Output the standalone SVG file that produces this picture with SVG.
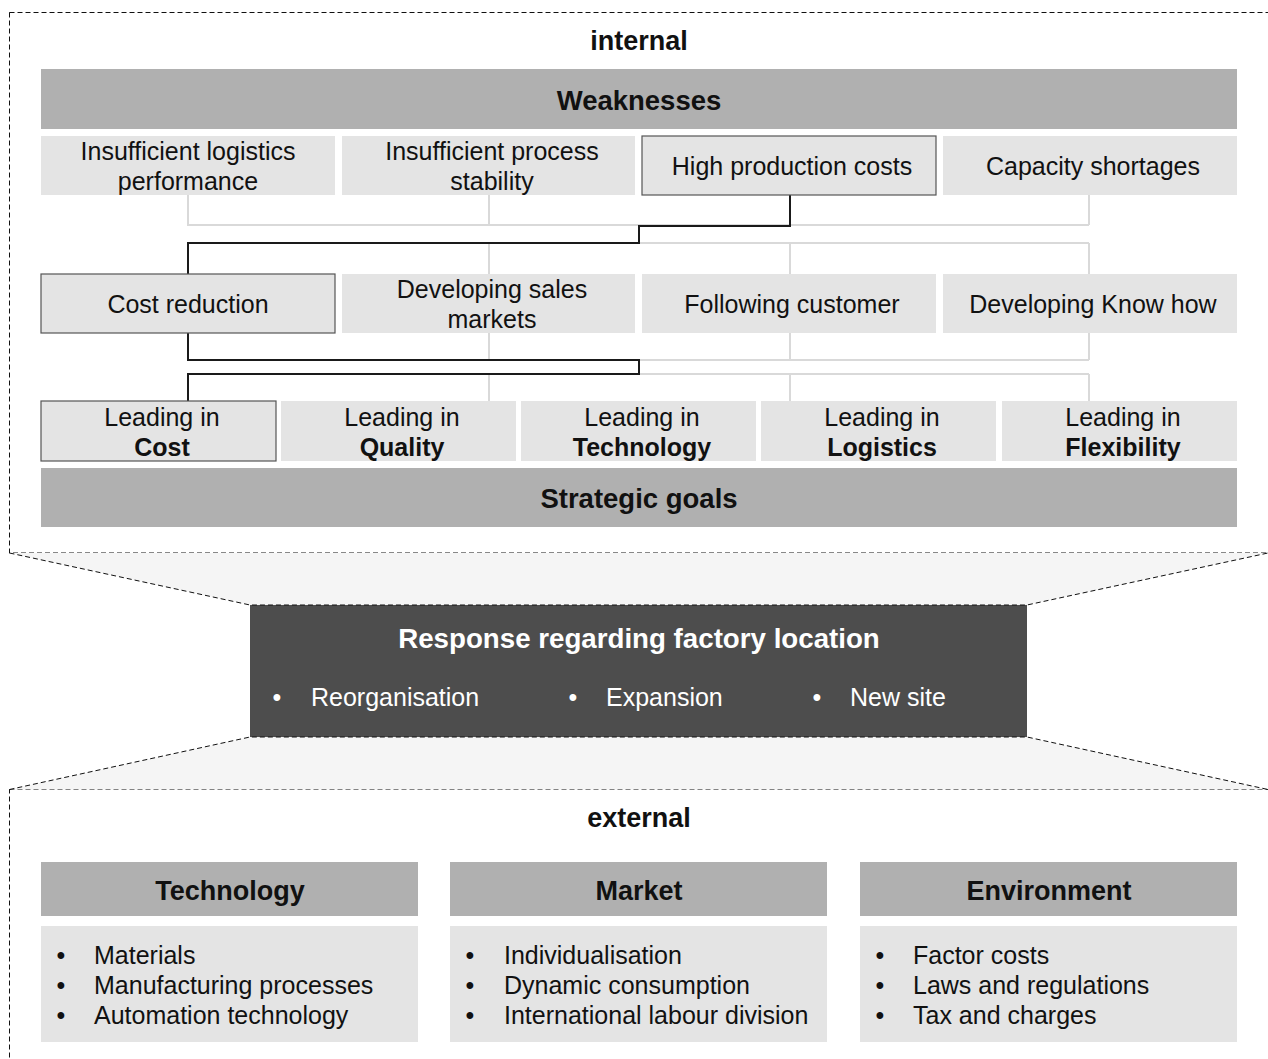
<svg xmlns="http://www.w3.org/2000/svg" width="1268" height="1059" viewBox="0 0 1268 1059">
  <style>
    text { font-family: "Liberation Sans", Arial, sans-serif; fill: #111; }
    .reg { font-size: 25px; }
    .bold { font-size: 27px; font-weight: bold; }
    .mid { text-anchor: middle; }
    .white { fill: #fff; }
    .frame { fill: none; stroke: #111; stroke-width: 1; stroke-dasharray: 5 3; }
    .funnel { fill: #f5f5f5; stroke: none; }
    .dash { fill: none; stroke: #111; stroke-width: 1; stroke-dasharray: 5 3; }
    .head { fill: #b0b0b0; }
    .cell { fill: #e4e4e4; }
    .sel { fill: #e4e4e4; stroke: #555; stroke-width: 1.2; }
    .grey { fill: none; stroke: #d9d9d9; stroke-width: 2; }
    .path { fill: none; stroke: #1a1a1a; stroke-width: 2; }
  </style>

  <rect width="1268" height="1059" fill="#fff"/>

  <!-- dashed frames for internal and external factors -->
  <g id="frames">
    <rect class="frame" x="9.5" y="12.5" width="1270" height="540.5"/>
    <rect class="frame" x="9.5" y="789.5" width="1270" height="300"/>
  </g>

  <!-- funnel shapes linking frames to the response box -->
  <g id="funnels">
    <polygon class="funnel" points="9.5,553 1268,553 1027,605 250,605"/>
    <polygon class="funnel" points="250,737 1027,737 1268,789.5 9.5,789.5"/>
  </g>

  <text class="bold mid" x="639" y="50">internal</text>

  <!-- connectors -->
  <g id="connectors">
    <!-- weaknesses to objectives -->
    <path class="grey" d="M188,195 V225 H1089 M489,195 V225 M1089,195 V225"/>
    <path class="grey" d="M639,225 V243 M188,243 H1089 M489,243 V274 M790,243 V274 M1089,243 V274"/>
    <!-- objectives to strategic goals -->
    <path class="grey" d="M188,333 V360 H1089 M489,333 V360 M790,333 V360 M1089,333 V360"/>
    <path class="grey" d="M639,360 V374 M188,374 H1089 M489,374 V401 M790,374 V401 M1089,374 V401"/>
    <!-- highlighted path -->
    <path class="path" d="M790,195 V226 H639 V243 H188 V274"/>
    <path class="path" d="M188,333 V360 H639 V374 H188 V401"/>
  </g>

  <g id="weaknesses-header">
    <rect class="head" x="41" y="69" width="1196" height="60"/>
    <text class="bold mid" x="639" y="110" style="font-size:27.5px">Weaknesses</text>
  </g>

  <g id="w-logistics">
    <rect class="cell" x="41" y="136" width="294" height="59"/>
    <text class="reg mid" x="188" y="160">Insufficient logistics</text>
    <text class="reg mid" x="188" y="190">performance</text>
  </g>
  <g id="w-process">
    <rect class="cell" x="342" y="136" width="293" height="59"/>
    <text class="reg mid" x="492" y="160">Insufficient process</text>
    <text class="reg mid" x="492" y="190">stability</text>
  </g>
  <g id="w-costs">
    <rect class="sel" x="642" y="136" width="294" height="59"/>
    <text class="reg mid" x="792" y="175">High production costs</text>
  </g>
  <g id="w-capacity">
    <rect class="cell" x="943" y="136" width="294" height="59"/>
    <text class="reg mid" x="1093" y="175">Capacity shortages</text>
  </g>

  <g id="o-cost">
    <rect class="sel" x="41" y="274" width="294" height="59"/>
    <text class="reg mid" x="188" y="313">Cost reduction</text>
  </g>
  <g id="o-markets">
    <rect class="cell" x="342" y="274" width="293" height="59"/>
    <text class="reg mid" x="492" y="298">Developing sales</text>
    <text class="reg mid" x="492" y="328">markets</text>
  </g>
  <g id="o-customer">
    <rect class="cell" x="642" y="274" width="294" height="59"/>
    <text class="reg mid" x="792" y="313">Following customer</text>
  </g>
  <g id="o-knowhow">
    <rect class="cell" x="943" y="274" width="294" height="59"/>
    <text class="reg mid" x="1093" y="313">Developing Know how</text>
  </g>

  <g id="g-cost">
    <rect class="sel" x="41" y="401" width="235" height="60"/>
    <text class="reg mid" x="162" y="426">Leading in</text>
    <text class="bold mid" x="162" y="456" style="font-size:25px">Cost</text>
  </g>
  <g id="g-quality">
    <rect class="cell" x="281" y="401" width="235" height="60"/>
    <text class="reg mid" x="402" y="426">Leading in</text>
    <text class="bold mid" x="402" y="456" style="font-size:25px">Quality</text>
  </g>
  <g id="g-technology">
    <rect class="cell" x="521" y="401" width="235" height="60"/>
    <text class="reg mid" x="642" y="426">Leading in</text>
    <text class="bold mid" x="642" y="456" style="font-size:25px">Technology</text>
  </g>
  <g id="g-logistics">
    <rect class="cell" x="761" y="401" width="235" height="60"/>
    <text class="reg mid" x="882" y="426">Leading in</text>
    <text class="bold mid" x="882" y="456" style="font-size:25px">Logistics</text>
  </g>
  <g id="g-flexibility">
    <rect class="cell" x="1002" y="401" width="235" height="60"/>
    <text class="reg mid" x="1123" y="426">Leading in</text>
    <text class="bold mid" x="1123" y="456" style="font-size:25px">Flexibility</text>
  </g>

  <g id="goals-header">
    <rect class="head" x="41" y="468" width="1196" height="59"/>
    <text class="bold mid" x="639" y="508" style="font-size:27.5px">Strategic goals</text>
  </g>

  <g id="response">
    <rect x="250" y="605" width="777" height="132" fill="#4d4d4d"/>
    <path class="dash" d="M9.5,553 L250,605 H1027 L1268,553"/>
    <path class="dash" d="M9.5,789.5 L250,737 H1027 L1268,789.5"/>
    <text class="bold mid white" x="639" y="648" style="font-size:27.7px">Response regarding factory location</text>
    <text class="reg white" x="277" y="706" text-anchor="middle">•</text>
    <text class="reg white" x="311" y="706">Reorganisation</text>
    <text class="reg white" x="573" y="706" text-anchor="middle">•</text>
    <text class="reg white" x="606" y="706">Expansion</text>
    <text class="reg white" x="817" y="706" text-anchor="middle">•</text>
    <text class="reg white" x="850" y="706">New site</text>
  </g>

  <text class="bold mid" x="639" y="827">external</text>

  <g id="ext-technology">
    <rect class="head" x="41" y="862" width="377" height="54"/>
    <text class="bold mid" x="230" y="900">Technology</text>
    <rect class="cell" x="41" y="926" width="377" height="116"/>
    <text class="reg" x="61" y="964" text-anchor="middle">•</text>
    <text class="reg" x="94" y="964">Materials</text>
    <text class="reg" x="61" y="994" text-anchor="middle">•</text>
    <text class="reg" x="94" y="994">Manufacturing processes</text>
    <text class="reg" x="61" y="1024" text-anchor="middle">•</text>
    <text class="reg" x="94" y="1024">Automation technology</text>
  </g>
  <g id="ext-market">
    <rect class="head" x="450" y="862" width="377" height="54"/>
    <text class="bold mid" x="639" y="900">Market</text>
    <rect class="cell" x="450" y="926" width="377" height="116"/>
    <text class="reg" x="470" y="964" text-anchor="middle">•</text>
    <text class="reg" x="504" y="964">Individualisation</text>
    <text class="reg" x="470" y="994" text-anchor="middle">•</text>
    <text class="reg" x="504" y="994">Dynamic consumption</text>
    <text class="reg" x="470" y="1024" text-anchor="middle">•</text>
    <text class="reg" x="504" y="1024">International labour division</text>
  </g>
  <g id="ext-environment">
    <rect class="head" x="860" y="862" width="377" height="54"/>
    <text class="bold mid" x="1049" y="900">Environment</text>
    <rect class="cell" x="860" y="926" width="377" height="116"/>
    <text class="reg" x="880" y="964" text-anchor="middle">•</text>
    <text class="reg" x="913" y="964">Factor costs</text>
    <text class="reg" x="880" y="994" text-anchor="middle">•</text>
    <text class="reg" x="913" y="994">Laws and regulations</text>
    <text class="reg" x="880" y="1024" text-anchor="middle">•</text>
    <text class="reg" x="913" y="1024">Tax and charges</text>
  </g>
</svg>
